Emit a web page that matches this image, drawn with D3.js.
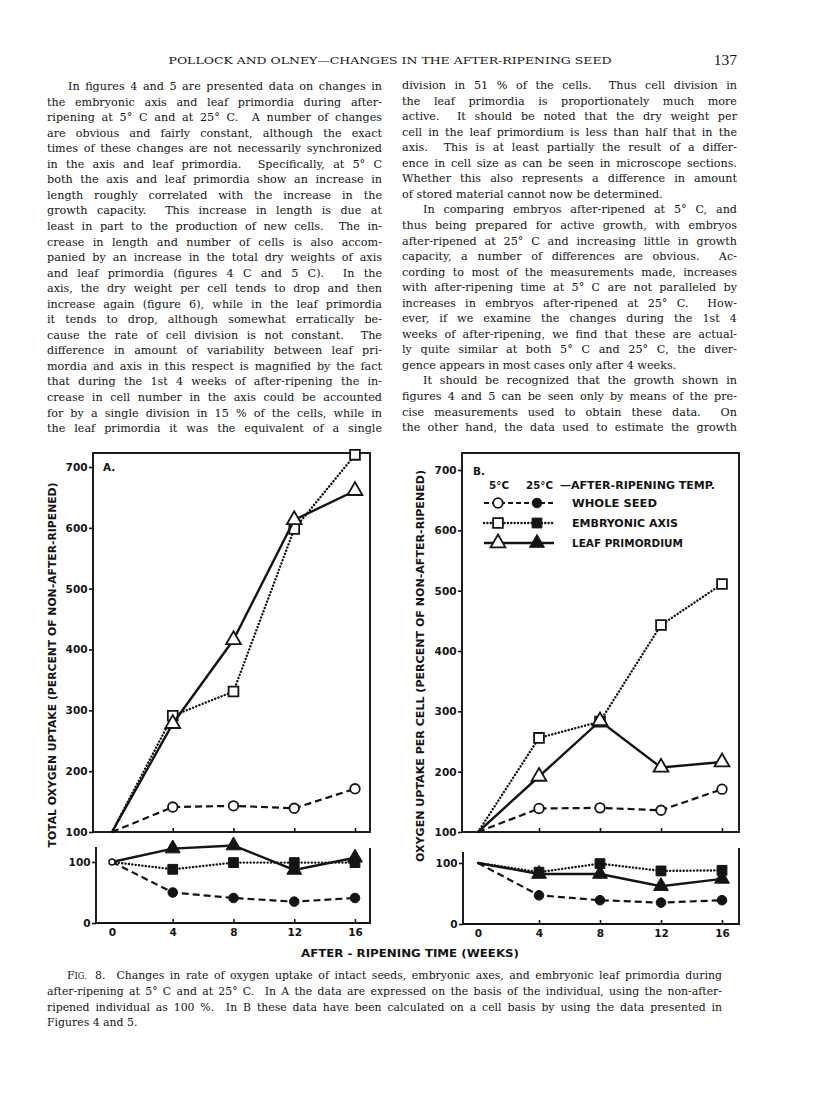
<!DOCTYPE html>
<html><head><meta charset="utf-8">
<script src="https://cdn.jsdelivr.net/npm/d3@7"></script>
<style>body{margin:0;background:#fff} svg{display:block}</style>
</head><body>
<script>
// ---------------- DATA ----------------
const weeks = [0, 4, 8, 12, 16];
const xTickValues = [0, 4, 8, 12, 16];
const yTicksTop = [100, 200, 300, 400, 500, 600, 700];
const yTicksBottom = [0, 100];

// Panel A (total oxygen uptake), 5 °C open markers (upper), 25 °C filled (lower)
const aSeed5 = [100, 141, 143, 139, 171];
const aAxis5 = [100, 291, 331, 598, 720];
const aLeaf5 = [100, 278, 416, 613, 661];
const aSeed25 = [100, 50, 41, 35, 41];
const aAxis25 = [100, 88, 99, 99, 99];
const aLeaf25 = [100, 122, 127, 87, 107];

// Panel B (oxygen uptake per cell)
const bSeed5 = [100, 139, 140, 136, 171];
const bAxis5 = [100, 256, 283, 443, 511];
const bLeaf5 = [100, 192, 284, 207, 216];
const bSeed25 = [100, 47, 39, 35, 39];
const bAxis25 = [100, 85, 99, 87, 88];
const bLeaf25 = [100, 82, 82, 62, 74];

const seriesNames = ["WHOLE SEED", "EMBRYONIC AXIS", "LEAF PRIMORDIUM"];
const legendHeader = ["5°C", "25°C", "—AFTER-RIPENING TEMP."];
const yTitleA = "TOTAL OXYGEN UPTAKE (PERCENT OF NON-AFTER-RIPENED)";
const yTitleB = "OXYGEN UPTAKE PER CELL (PERCENT OF NON-AFTER-RIPENED)";
const xTitle = "AFTER - RIPENING TIME (WEEKS)";
const panelLabels = ["A.", "B."];

const headerText = "POLLOCK AND OLNEY—CHANGES IN THE AFTER-RIPENING SEED";
const pageNumber = "137";

const leftColumn = [
  "In figures 4 and 5 are presented data on changes in",
  "the embryonic axis and leaf primordia during after-",
  "ripening at 5° C and at 25° C.  A number of changes",
  "are obvious and fairly constant, although the exact",
  "times of these changes are not necessarily synchronized",
  "in the axis and leaf primordia.  Specifically, at 5° C",
  "both the axis and leaf primordia show an increase in",
  "length roughly correlated with the increase in the",
  "growth capacity.  This increase in length is due at",
  "least in part to the production of new cells.  The in-",
  "crease in length and number of cells is also accom-",
  "panied by an increase in the total dry weights of axis",
  "and leaf primordia (figures 4 C and 5 C).  In the",
  "axis, the dry weight per cell tends to drop and then",
  "increase again (figure 6), while in the leaf primordia",
  "it tends to drop, although somewhat erratically be-",
  "cause the rate of cell division is not constant.  The",
  "difference in amount of variability between leaf pri-",
  "mordia and axis in this respect is magnified by the fact",
  "that during the 1st 4 weeks of after-ripening the in-",
  "crease in cell number in the axis could be accounted",
  "for by a single division in 15 % of the cells, while in",
  "the leaf primordia it was the equivalent of a single"
];
const rightColumn = [
  "division in 51 % of the cells.  Thus cell division in",
  "the leaf primordia is proportionately much more",
  "active.  It should be noted that the dry weight per",
  "cell in the leaf primordium is less than half that in the",
  "axis.  This is at least partially the result of a differ-",
  "ence in cell size as can be seen in microscope sections.",
  "Whether this also represents a difference in amount",
  "of stored material cannot now be determined.",
  "In comparing embryos after-ripened at 5° C, and",
  "thus being prepared for active growth, with embryos",
  "after-ripened at 25° C and increasing little in growth",
  "capacity, a number of differences are obvious.  Ac-",
  "cording to most of the measurements made, increases",
  "with after-ripening time at 5° C are not paralleled by",
  "increases in embryos after-ripened at 25° C.  How-",
  "ever, if we examine the changes during the 1st 4",
  "weeks of after-ripening, we find that these are actual-",
  "ly quite similar at both 5° C and 25° C, the diver-",
  "gence appears in most cases only after 4 weeks.",
  "It should be recognized that the growth shown in",
  "figures 4 and 5 can be seen only by means of the pre-",
  "cise measurements used to obtain these data.  On",
  "the other hand, the data used to estimate the growth"
];
const leftIndents = [0];
const leftRagged = [];
const rightIndents = [8, 19];
const rightRagged = [7, 18];

const captionLines = [
  "8.  Changes in rate of oxygen uptake of intact seeds, embryonic axes, and embryonic leaf primordia during",
  "after-ripening at 5° C and at 25° C.  In A the data are expressed on the basis of the individual, using the non-after-",
  "ripened individual as 100 %.  In B these data have been calculated on a cell basis by using the data presented in",
  "Figures 4 and 5."
];

// ---------------- DRAW ----------------
const W = 816, H = 1120;
const svg = d3.select("body").append("svg").attr("width", W).attr("height", H);
svg.append("rect").attr("width", W).attr("height", H).attr("fill", "#fff");
const INK = "#141414";
const SERIF = "'DejaVu Serif', 'Liberation Serif', serif";
const CAPSERIF = "'Liberation Serif', 'Times New Roman', serif";
const SANS = "'DejaVu Sans', 'Liberation Sans', sans-serif";

// header
svg.append("text").attr("x", 390).attr("y", 64).attr("text-anchor", "middle")
  .attr("font-family", SERIF).attr("font-size", 9.3).attr("fill", INK)
  .attr("textLength", 443).attr("lengthAdjust", "spacingAndGlyphs").text(headerText);
svg.append("text").attr("x", 737).attr("y", 64.5).attr("text-anchor", "end")
  .attr("font-family", CAPSERIF).attr("font-size", 15.5).attr("fill", INK).text(pageNumber);

// justified text helper
function textLine(g, x, y, str, width, justify, size, ls, fam) {
  const t = g.append("text").attr("x", x).attr("y", y)
    .attr("font-family", fam || SERIF).attr("font-size", size).attr("fill", INK)
    .style("white-space", "pre").style("letter-spacing", ls + "px").text(str);
  const w = t.node().getComputedTextLength();
  if (justify) {
    const n = (str.match(/ /g) || []).length;
    const extra = width - w;
    if (extra >= 0 && n > 0) t.style("word-spacing", (extra / n) + "px");
    else if (extra < 0) t.attr("textLength", width).attr("lengthAdjust", "spacingAndGlyphs");
  } else if (w > width) {
    t.attr("textLength", width).attr("lengthAdjust", "spacingAndGlyphs");
  }
  return t;
}

const body = svg.append("g");
const colW = 335, indent = 21, lh = 15.55, base0 = 90;
leftColumn.forEach((s, i) => {
  const ind = leftIndents.includes(i) ? indent : 0;
  textLine(body, 47 + ind, base0 + i * lh, s, colW - ind, !leftRagged.includes(i), 11.2, 0);
});
rightColumn.forEach((s, i) => {
  const ind = rightIndents.includes(i) ? indent : 0;
  textLine(body, 402 + ind, base0 - 1 + i * lh, s, colW - ind, !rightRagged.includes(i), 11.2, 0);
});

// caption
const cap = svg.append("g");
const capBase = [979, 995, 1011, 1026];
const capSize = 10.9;
captionLines.forEach((s, i) => {
  if (i === 0) {
    const f = cap.append("text").attr("x", 67).attr("y", capBase[0])
      .attr("font-family", SERIF).attr("font-size", capSize).attr("fill", INK);
    f.append("tspan").text("F");
    f.append("tspan").attr("font-size", 8.4).text("IG.");
    textLine(cap, 95, capBase[0], s, 722 - 95, true, capSize, 0);
  } else {
    textLine(cap, 47, capBase[i], s, 722 - 47, i < 3, capSize, 0);
  }
});

// chart panels
const panels = [
  { label: panelLabels[0], labelPos: [103, 471], xr: [112, 355],
    top: { l: 93, r: 370, t: 453, b: 832, y700: 467 },
    bot: { l: 96, r: 370, tl: 847, tr: 848, b: 923, y100: 862 },
    seed5: aSeed5, axis5: aAxis5, leaf5: aLeaf5, seed25: aSeed25, axis25: aAxis25, leaf25: aLeaf25,
    title: yTitleA, titleX: 52, titleY: 665, titleLen: 365, zeroMarker: true },
  { label: panelLabels[1], labelPos: [473, 475], xr: [478, 722],
    top: { l: 462, r: 739, t: 453, b: 832, y700: 470 },
    bot: { l: 463, r: 739, tl: 852, tr: 848, b: 924, y100: 863 },
    seed5: bSeed5, axis5: bAxis5, leaf5: bLeaf5, seed25: bSeed25, axis25: bAxis25, leaf25: bLeaf25,
    title: yTitleB, titleX: 420, titleY: 666, titleLen: 392, zeroMarker: false }
];

const styles = {
  seed: { dash: "7,4", width: 2.2, cap: "butt" },
  axis: { dash: "0.1,3.3", width: 2.4, cap: "round" },
  leaf: { dash: null, width: 2.4, cap: "butt" }
};
const symbols = { seed: d3.symbolCircle, axis: d3.symbolSquare, leaf: d3.symbolTriangle };
const symSize = { seed: 72, axis: 96, leaf: 95 };

function drawSeries(g, x, y, vals, kind, filled) {
  const st = styles[kind];
  const line = d3.line().x((d, i) => x(weeks[i])).y(d => y(d));
  g.append("path").datum(vals).attr("d", line).attr("fill", "none")
    .attr("stroke", INK).attr("stroke-width", st.width)
    .attr("stroke-dasharray", st.dash).attr("stroke-linecap", st.cap);
  const sym = d3.symbol().type(symbols[kind]).size(symSize[kind]);
  g.selectAll(null).data(vals.slice(1)).join("path")
    .attr("d", sym)
    .attr("transform", (d, i) => `translate(${x(weeks[i + 1])},${y(d)})`)
    .attr("fill", filled ? INK : "#fff")
    .attr("stroke", INK).attr("stroke-width", filled ? 1 : 1.8);
}

function styleAxis(a, size) {
  a.attr("font-family", SANS).attr("font-size", size).attr("font-weight", "bold");
  a.selectAll("text").attr("fill", INK);
  a.selectAll("line").attr("stroke", INK).attr("stroke-width", 1.6);
  a.select(".domain").remove();
}

panels.forEach(p => {
  const g = svg.append("g");
  const x = d3.scaleLinear().domain([0, 16]).range(p.xr);
  const yT = d3.scaleLinear().domain([100, 700]).range([p.top.b, p.top.y700]);
  const yB = d3.scaleLinear().domain([0, 100]).range([p.bot.b, p.bot.y100]);

  g.append("rect").attr("x", p.top.l).attr("y", p.top.t)
    .attr("width", p.top.r - p.top.l).attr("height", p.top.b - p.top.t)
    .attr("fill", "none").attr("stroke", INK).attr("stroke-width", 1.9);
  g.append("path").attr("d",
    `M${p.bot.l},${p.bot.tl}V${p.bot.b}H${p.bot.r}V${p.bot.tr}`)
    .attr("fill", "none").attr("stroke", INK).attr("stroke-width", 1.9);

  const ayT = g.append("g").attr("transform", `translate(${p.top.l},0)`)
    .call(d3.axisLeft(yT).tickValues(yTicksTop).tickSize(4).tickPadding(1.5).tickFormat(d3.format("d")));
  styleAxis(ayT, 10.5);
  const ayB = g.append("g").attr("transform", `translate(${p.bot.l},0)`)
    .call(d3.axisLeft(yB).tickValues(yTicksBottom).tickSize(4).tickPadding(1.5).tickFormat(d3.format("d")));
  styleAxis(ayB, 10.5);

  const axT = g.append("g").attr("transform", `translate(0,${p.top.b})`)
    .call(d3.axisBottom(x).tickValues(xTickValues.slice(1)).tickSize(-4).tickFormat(""));
  styleAxis(axT, 10);
  const axB = g.append("g").attr("transform", `translate(0,${p.bot.b})`)
    .call(d3.axisBottom(x).tickValues(xTickValues).tickSize(-4).tickPadding(6));
  styleAxis(axB, 10.5);
  axB.selectAll(".tick line").filter(d => d === 0).remove();

  g.append("text").attr("x", p.labelPos[0]).attr("y", p.labelPos[1])
    .attr("font-family", SANS).attr("font-weight", "bold").attr("font-size", 10.5)
    .attr("fill", INK).text(p.label);

  g.append("text").attr("transform", `translate(${p.titleX + 4},${p.titleY}) rotate(-90)`)
    .attr("text-anchor", "middle").attr("font-family", SANS).attr("font-weight", "bold")
    .attr("font-size", 10).attr("fill", INK)
    .attr("textLength", p.titleLen).attr("lengthAdjust", "spacingAndGlyphs").text(p.title);

  drawSeries(g, x, yT, p.seed5, "seed", false);
  drawSeries(g, x, yT, p.axis5, "axis", false);
  drawSeries(g, x, yT, p.leaf5, "leaf", false);
  drawSeries(g, x, yB, p.seed25, "seed", true);
  drawSeries(g, x, yB, p.axis25, "axis", true);
  drawSeries(g, x, yB, p.leaf25, "leaf", true);
  if (p.zeroMarker) {
    g.append("circle").attr("cx", x(0)).attr("cy", yB(100)).attr("r", 3)
      .attr("fill", "#fff").attr("stroke", INK).attr("stroke-width", 1.5);
  }
});

svg.append("text").attr("x", 410).attr("y", 957).attr("text-anchor", "middle")
  .attr("font-family", SANS).attr("font-weight", "bold").attr("font-size", 11)
  .attr("fill", INK).attr("textLength", 218).attr("lengthAdjust", "spacingAndGlyphs")
  .style("white-space", "pre").text(xTitle);

const lg = svg.append("g");
const lf = (sel) => sel.attr("font-family", SANS).attr("font-weight", "bold")
  .attr("font-size", 10).attr("fill", INK).attr("lengthAdjust", "spacingAndGlyphs");
lf(lg.append("text").attr("x", 489).attr("y", 489).attr("textLength", 20).text(legendHeader[0]));
lf(lg.append("text").attr("x", 526).attr("y", 489).attr("textLength", 27).text(legendHeader[1]));
lf(lg.append("text").attr("x", 560).attr("y", 489).attr("textLength", 155).text(legendHeader[2]));
const legKinds = ["seed", "axis", "leaf"];
const legY = [503, 523, 543];
const legLen = [85, 106, 111];
legKinds.forEach((k, i) => {
  const st = styles[k];
  lg.append("line").attr("x1", 484).attr("x2", 554).attr("y1", legY[i]).attr("y2", legY[i])
    .attr("stroke", INK).attr("stroke-width", st.width)
    .attr("stroke-dasharray", k === "seed" ? "5,3" : st.dash).attr("stroke-linecap", st.cap);
  const sym = d3.symbol().type(symbols[k]).size(symSize[k]);
  lg.append("path").attr("d", sym).attr("transform", `translate(498,${legY[i]})`)
    .attr("fill", "#fff").attr("stroke", INK).attr("stroke-width", 1.8);
  lg.append("path").attr("d", sym).attr("transform", `translate(537,${legY[i]})`)
    .attr("fill", INK).attr("stroke", INK).attr("stroke-width", 1);
  lf(lg.append("text").attr("x", 572).attr("y", legY[i] + 4).attr("textLength", legLen[i]).text(seriesNames[i]));
});
</script>
</body></html>
